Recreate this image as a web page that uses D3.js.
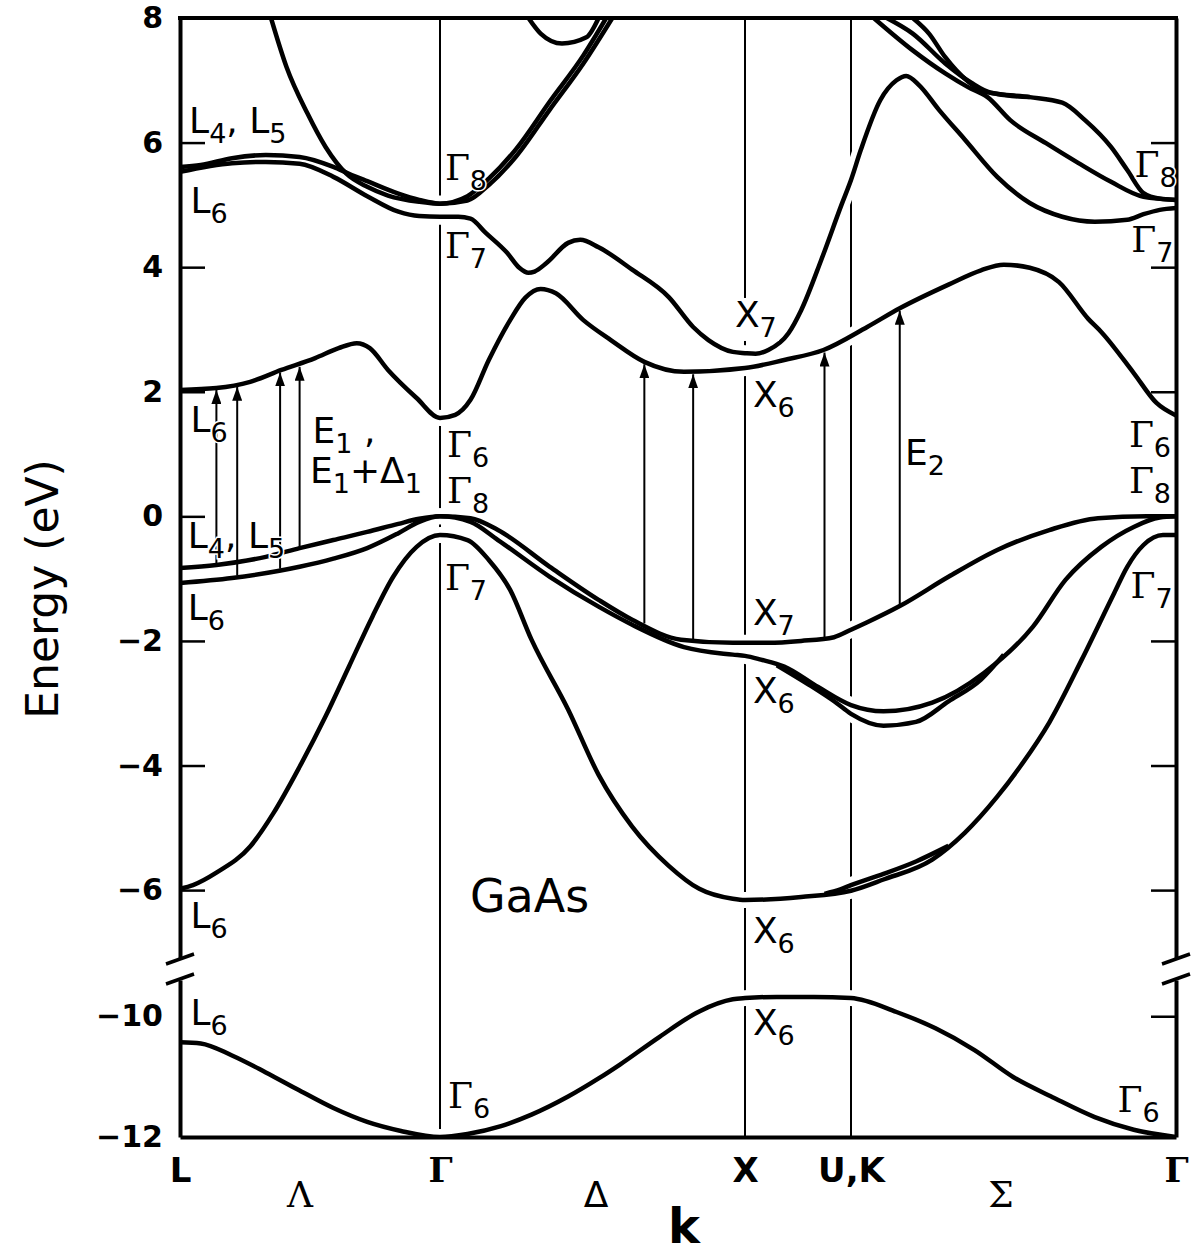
<!DOCTYPE html>
<html>
<head>
<meta charset="utf-8">
<title>GaAs band structure</title>
<script src="https://cdn.jsdelivr.net/npm/d3@7"></script>
<style>
  body { margin: 0; background: #fff; }
  svg text { white-space: pre; }
</style>
</head>
<body>
<div id="chart"></div>
<script>
// GaAs band structure, energy vs k along L - Γ - X - U,K - Γ
// k is counted in path segments: L=0, Γ=1, X=2, U,K=3, Γ=4

var symK = [0, 1, 2, 3, 4];
var symNames = ["L", "Γ", "X", "U,K", "Γ"];
var dirK = [0.46, 1.51, 3.46];
var dirNames = ["Λ", "Δ", "Σ"];
var ticksUpper = [-6, -4, -2, 0, 2, 4, 6, 8];
var ticksLower = [-12, -10];

// bands, [k, E in eV]
var bandS = [[0,-10.43],[0.08,-10.45],[0.2,-10.65],[0.33,-10.93],[0.46,-11.23],[0.59,-11.52],[0.72,-11.75],[0.85,-11.9],[1,-12.0],
  [1.09,-11.95],[1.2,-11.82],[1.3,-11.63],[1.42,-11.33],[1.52,-11.03],[1.59,-10.8],[1.72,-10.34],[1.85,-9.92],[1.96,-9.72],[2,-9.7],
  [2.3,-9.68],[2.65,-9.68],[3,-9.7],[3.14,-9.93],[3.26,-10.2],[3.38,-10.56],[3.5,-11.01],[3.62,-11.34],[3.75,-11.67],[3.87,-11.88],[4,-12.0]];

var bandSO = [[0,-5.98],[0.05,-5.92],[0.14,-5.72],[0.27,-5.3],[0.36,-4.76],[0.46,-4.02],[0.56,-3.21],[0.65,-2.41],[0.74,-1.61],[0.82,-0.97],[0.91,-0.49],[1,-0.3],
  [1.09,-0.38],[1.16,-0.7],[1.23,-1.18],[1.3,-1.98],[1.42,-3.1],[1.52,-4.15],[1.63,-4.98],[1.75,-5.61],[1.85,-5.98],[1.96,-6.14],[2,-6.16],
  [2.53,-6.11],[3,-6.01],[3.1,-5.83],[3.25,-5.51],[3.35,-5.08],[3.45,-4.5],[3.52,-4.02],[3.61,-3.31],[3.71,-2.3],[3.81,-1.23],[3.85,-0.81],[3.9,-0.46],[3.96,-0.3],[4,-0.3]];
var bandSO2 = [[2.75,-6.06],[2.9,-5.99],[3,-5.92],[3.1,-5.74],[3.2,-5.54],[3.3,-5.29]];

var bandHH = [[0,-0.83],[0.14,-0.78],[0.33,-0.65],[0.46,-0.51],[0.59,-0.38],[0.72,-0.25],[0.84,-0.12],[0.92,-0.04],[1,0],
  [1.1,-0.03],[1.19,-0.22],[1.36,-0.81],[1.52,-1.34],[1.63,-1.66],[1.79,-1.98],[1.96,-2.03],[2,-2.03],
  [2.22,-2.03],[2.53,-2.0],[2.84,-1.94],[3,-1.82],[3.05,-1.7],[3.15,-1.44],[3.3,-0.97],[3.45,-0.54],[3.61,-0.22],[3.76,-0.03],[3.91,0],[4,0]];

var bandLH = [[0,-1.07],[0.2,-0.99],[0.46,-0.81],[0.59,-0.68],[0.72,-0.51],[0.84,-0.27],[0.92,-0.09],[1,0],
  [1.1,-0.09],[1.19,-0.38],[1.36,-0.97],[1.52,-1.45],[1.63,-1.74],[1.8,-2.1],[1.96,-2.22],[2,-2.24],
  [2.15,-2.3],[2.37,-2.41],[2.69,-2.74],[3,-3.03],[3.1,-3.13],[3.25,-2.99],[3.41,-2.51],[3.56,-1.77],[3.66,-1.02],[3.77,-0.49],[3.87,-0.17],[3.95,-0.02],[4,0]];
var bandLH2 = [[2.3,-2.39],[2.6,-2.7],[2.85,-2.98],[3,-3.17],[3.1,-3.36],[3.2,-3.3],[3.3,-2.97],[3.4,-2.62],[3.47,-2.22]];

var bandC1 = [[0,2.03],[0.14,2.06],[0.27,2.16],[0.39,2.35],[0.52,2.54],[0.61,2.7],[0.68,2.78],[0.73,2.7],[0.8,2.35],[0.91,1.9],[1,1.58],
  [1.05,1.63],[1.1,1.87],[1.16,2.51],[1.23,3.15],[1.28,3.51],[1.33,3.65],[1.38,3.58],[1.47,3.15],[1.56,2.83],[1.67,2.48],[1.8,2.32],[2,2.38],
  [2.37,2.51],[2.74,2.67],[3.05,3.04],[3.15,3.34],[3.3,3.72],[3.4,3.95],[3.47,4.04],[3.55,3.99],[3.64,3.76],[3.73,3.17],[3.77,2.96],[3.87,2.3],[3.94,1.82],[4,1.62]];

var bandC2 = [[0,5.53],[0.2,5.67],[0.33,5.69],[0.46,5.66],[0.59,5.45],[0.72,5.14],[0.84,4.89],[0.92,4.82],[1,4.81],
  [1.06,4.81],[1.1,4.78],[1.15,4.55],[1.22,4.23],[1.26,3.99],[1.29,3.91],[1.31,3.93],[1.35,4.07],[1.42,4.39],[1.46,4.44],[1.52,4.32],[1.63,3.96],[1.75,3.52],[1.83,3.04],[1.88,2.83],[1.96,2.64],[2,2.62],
  [2.1,2.61],[2.22,2.67],[2.41,2.94],[2.53,3.31],[2.72,4.12],[2.91,5.0],[3,5.4],[3.03,5.88],[3.09,6.68],[3.14,7.0],[3.17,7.07],[3.21,6.92],[3.27,6.53],[3.35,6.05],[3.45,5.45],[3.55,5.03],[3.65,4.81],[3.75,4.73],[3.85,4.76],[3.9,4.85],[3.95,4.92],[4,4.95]];

var bandL45 = [[0,5.61],[0.08,5.64],[0.2,5.75],[0.33,5.8],[0.46,5.77],[0.59,5.61],[0.65,5.5],[0.72,5.38],[0.84,5.18],[0.92,5.08],[1,5.02],
  [1.09,5.07],[1.16,5.32],[1.25,5.78],[1.36,6.53],[1.47,7.27],[1.565,8.0]];
var bandSteep = [[0.35,8.0],[0.41,7.21],[0.49,6.47],[0.56,5.93],[0.64,5.5],[0.72,5.29],[0.8,5.15],[0.92,5.05],[1,5.02],
  [1.09,5.14],[1.16,5.42],[1.25,5.9],[1.36,6.66],[1.47,7.4],[1.545,8.0]];
var bandLoop = [[1.29,8.0],[1.33,7.75],[1.4,7.59],[1.48,7.69],[1.52,8.0]];

var bandTop1 = [[3.07,8.0],[3.19,7.48],[3.29,7.11],[3.36,6.89],[3.42,6.73],[3.49,6.36],[3.6,5.99],[3.7,5.67],[3.8,5.37],[3.9,5.13],[4,5.08]];
var bandTop2 = [[3.11,8.0],[3.19,7.75],[3.29,7.27],[3.37,6.96],[3.43,6.8],[3.55,6.73],[3.65,6.64],[3.72,6.36],[3.8,5.93],[3.85,5.56],[3.9,5.19],[3.95,5.1],[4,5.08]];
var bandTop3 = [[3.19,8.0],[3.24,7.75],[3.29,7.37],[3.36,6.98],[3.4,6.84],[3.45,6.78],[3.55,6.73]];

var bandsUpper = [bandSO, bandSO2, bandHH, bandLH, bandLH2, bandC1, bandC2, bandL45, bandSteep, bandLoop, bandTop1, bandTop2, bandTop3];
var bandsLower = [bandS];

// optical transitions E1, E1+Δ1 and E2
var arrowK = [0.14, 0.22, 0.385, 0.46, 1.67, 1.83, 2.75, 3.15];
var arrowFrom = [-0.8, -0.95, -0.84, -0.51, -1.72, -1.97, -1.95, -1.44];
var arrowTo = [2.03, 2.08, 2.31, 2.4, 2.44, 2.28, 2.63, 3.3];

// band labels ("_" marks a subscript), placed at [k, E]
var labelText = ["L_4, L_5", "L_6", "Γ_8", "Γ_7", "Γ_8", "Γ_7", "L_6", "E_1 ,", "E_1+Δ_1", "Γ_6", "Γ_8", "L_4, L_5", "Γ_7", "L_6",
  "X_7", "X_6", "E_2", "Γ_6", "Γ_8", "Γ_7", "X_7", "X_6", "X_6", "L_6", "GaAs", "L_6", "X_6", "Γ_6", "Γ_6"];
var labelK = [0.035, 0.04, 1.016, 1.016, 3.872, 3.862, 0.04, 0.51, 0.5, 1.023, 1.023, 0.03, 1.016, 0.03,
  1.967, 2.075, 3.166, 3.855, 3.855, 3.86, 2.075, 2.075, 2.075, 0.04, 1.098, 0.04, 2.075, 1.026, 3.82];
var labelE = [6.15, 4.87, 5.4, 4.15, 5.45, 4.24, 1.35, 1.18, 0.535, 0.95, 0.214, -0.51, -1.18, -1.66,
  3.04, 1.755, 0.824, 1.11, 0.375, -1.31, -1.745, -3.0, -6.85, -6.61, -6.35, -10.15, -10.31, -11.52, -11.58];

var W = 1196, H = 1257;
var plotLeft = 180, plotRight = 1176, plotTop = 18, plotBottom = 1137;
var breakTop = 958, breakBottom = 980;

var x = d3.scaleLinear().domain(symK).range([180, 440, 745, 851, 1176]);
var yU = d3.scaleLinear().domain([-7.09, 8]).range([breakTop, plotTop]);
var yL = d3.scaleLinear().domain([-12, -9.4]).range([plotBottom, breakBottom]);

var lineU = d3.line().x(function(d) { return x(d[0]); }).y(function(d) { return yU(d[1]); }).curve(d3.curveMonotoneX);
var lineL = d3.line().x(function(d) { return x(d[0]); }).y(function(d) { return yL(d[1]); }).curve(d3.curveMonotoneX);

var svg = d3.select("#chart").append("svg")
  .attr("width", W).attr("height", H)
  .attr("font-family", "DejaVu Sans, sans-serif");

var defs = svg.append("defs");
defs.append("clipPath").attr("id", "clip-up").append("rect")
  .attr("x", plotLeft).attr("y", plotTop).attr("width", plotRight - plotLeft).attr("height", breakTop - plotTop);
defs.append("clipPath").attr("id", "clip-lo").append("rect")
  .attr("x", plotLeft).attr("y", breakBottom).attr("width", plotRight - plotLeft).attr("height", plotBottom - breakBottom);
defs.append("marker").attr("id", "head")
  .attr("markerUnits", "userSpaceOnUse").attr("markerWidth", 14).attr("markerHeight", 10)
  .attr("viewBox", "0 0 14 10").attr("refX", 14).attr("refY", 5).attr("orient", "auto")
  .append("path").attr("d", "M0,0L14,5L0,10Z").attr("fill", "#000");

// thin verticals at Γ, X and U,K
svg.append("g").selectAll("line").data([1, 2, 3]).join("line")
  .attr("x1", function(d) { return x(d); }).attr("x2", function(d) { return x(d); })
  .attr("y1", plotTop).attr("y2", plotBottom)
  .attr("stroke", "#000").attr("stroke-width", 2);

// white casing under the bands, breaks the verticals where bands cross
var caseU = svg.append("g").attr("clip-path", "url(#clip-up)");
caseU.selectAll("path").data(bandsUpper).join("path")
  .attr("d", lineU).attr("fill", "none").attr("stroke", "#fff").attr("stroke-width", 16);
var caseL = svg.append("g").attr("clip-path", "url(#clip-lo)");
caseL.selectAll("path").data(bandsLower).join("path")
  .attr("d", lineL).attr("fill", "none").attr("stroke", "#fff").attr("stroke-width", 16);

// arrows
svg.append("g").selectAll("line").data(arrowK).join("line")
  .attr("x1", function(d) { return x(d); }).attr("x2", function(d) { return x(d); })
  .attr("y1", function(d, i) { return yU(arrowFrom[i]); })
  .attr("y2", function(d, i) { return yU(arrowTo[i]); })
  .attr("stroke", "#000").attr("stroke-width", 2)
  .attr("marker-end", "url(#head)");

// axes
function styleAxis(g) {
  g.attr("font-family", null).attr("font-size", null);
  g.select(".domain").attr("stroke", "#000").attr("stroke-width", 4);
  g.selectAll(".tick line").attr("stroke", "#000").attr("stroke-width", 2.5);
  g.selectAll(".tick text").attr("fill", "#000").attr("font-size", 30).attr("font-weight", "bold");
}
var fmt = d3.format("d");
svg.append("g").attr("transform", "translate(" + plotLeft + ",0)")
  .call(d3.axisLeft(yU).tickValues(ticksUpper).tickSize(-25).tickSizeOuter(0).tickPadding(17).tickFormat(fmt))
  .call(styleAxis);
var gLowLeft = svg.append("g").attr("transform", "translate(" + plotLeft + ",0)")
  .call(d3.axisLeft(yL).tickValues(ticksLower).tickSize(-25).tickSizeOuter(0).tickPadding(17).tickFormat(fmt))
  .call(styleAxis);
gLowLeft.selectAll(".tick line").attr("stroke", "none"); // hidden behind the L6 label in the original
svg.append("g").attr("transform", "translate(" + plotRight + ",0)")
  .call(d3.axisRight(yU).tickValues(ticksUpper).tickSize(-25).tickSizeOuter(0).tickFormat(""))
  .call(styleAxis);
svg.append("g").attr("transform", "translate(" + plotRight + ",0)")
  .call(d3.axisRight(yL).tickValues(ticksLower).tickSize(-25).tickSizeOuter(0).tickFormat(""))
  .call(styleAxis);

svg.append("line")
  .attr("x1", plotLeft - 2).attr("x2", plotRight + 2).attr("y1", yU(8)).attr("y2", yU(8))
  .attr("stroke", "#000").attr("stroke-width", 4);

var gx = svg.append("g").attr("transform", "translate(0," + plotBottom + ")")
  .call(d3.axisBottom(x).tickValues(symK).tickSize(0).tickSizeOuter(0).tickPadding(21)
    .tickFormat(function(d, i) { return symNames[i]; }))
  .call(styleAxis);
gx.selectAll(".tick text").attr("font-size", 34)
  .attr("font-family", function(d, i) { return symNames[i] === "Γ" ? "DejaVu Serif" : "DejaVu Sans"; });

var gd = svg.append("g").attr("transform", "translate(0," + plotBottom + ")")
  .call(d3.axisBottom(x).tickValues(dirK).tickSize(0).tickSizeOuter(0).tickPadding(44)
    .tickFormat(function(d, i) { return dirNames[i]; }))
  .call(styleAxis);
gd.select(".domain").remove();
gd.selectAll(".tick text").attr("font-size", 36).attr("font-weight", "normal")
  .attr("font-family", function(d, i) { return dirNames[i] === "Δ" ? "DejaVu Sans" : "DejaVu Serif"; });

// axis breaks
[plotLeft, plotRight].forEach(function(px) {
  [breakTop + 1, breakBottom - 1].forEach(function(py) {
    svg.append("line")
      .attr("x1", px - 14).attr("y1", py + 5).attr("x2", px + 14).attr("y2", py - 5)
      .attr("stroke", "#000").attr("stroke-width", 3.5);
  });
});

// bands
svg.append("g").attr("clip-path", "url(#clip-up)")
  .selectAll("path").data(bandsUpper).join("path")
  .attr("d", lineU).attr("fill", "none").attr("stroke", "#000")
  .attr("stroke-width", 4.5).attr("stroke-linejoin", "round");
svg.append("g").attr("clip-path", "url(#clip-lo)")
  .selectAll("path").data(bandsLower).join("path")
  .attr("d", lineL).attr("fill", "none").attr("stroke", "#000")
  .attr("stroke-width", 4.5).attr("stroke-linejoin", "round");

// labels
function richText(sel, str, fs) {
  var subFs = Math.round(fs * 0.76), drop = Math.round(fs * 0.27), inSub = false;
  for (var i = 0; i < str.length; i++) {
    var ch = str[i], isSub = false;
    if (ch === "_") { i++; ch = str[i]; isSub = true; }
    var t = sel.append("tspan").text(ch);
    if (isSub) {
      t.attr("font-size", subFs);
      if (!inSub) t.attr("dy", drop);
    } else {
      t.attr("font-size", fs);
      if (inSub) t.attr("dy", -drop);
    }
    inSub = isSub;
    if (ch === "Γ" || ch === "Λ" || ch === "Σ") t.attr("font-family", "DejaVu Serif");
  }
}

var gLab = svg.append("g");
labelText.forEach(function(s, i) {
  var lower = labelE[i] < -8;
  var px = x(labelK[i]), py = lower ? yL(labelE[i]) : yU(labelE[i]);
  var t = gLab.append("text").attr("x", px).attr("y", py)
    .attr("xml:space", "preserve")
    .attr("stroke", "#fff").attr("stroke-width", 3).attr("paint-order", "stroke")
    .attr("fill", "#000");
  richText(t, s, s === "GaAs" ? 46 : 36);
  if (s === "X_7" && labelE[i] > 0) {
    var b = t.node().getBBox();
    gLab.insert("rect", function() { return t.node(); })
      .attr("x", b.x - 2).attr("y", b.y + 4).attr("width", b.width + 4).attr("height", b.height - 6)
      .attr("fill", "#fff");
  }
});

// axis titles
svg.append("text")
  .attr("transform", "translate(58,589) rotate(-90)")
  .attr("text-anchor", "middle").attr("font-size", 44)
  .text("Energy (eV)");

svg.append("text")
  .attr("x", (plotLeft + plotRight) / 2 + 6).attr("y", 1243)
  .attr("text-anchor", "middle").attr("font-size", 48).attr("font-weight", "bold")
  .text("k");
</script>
</body>
</html>
